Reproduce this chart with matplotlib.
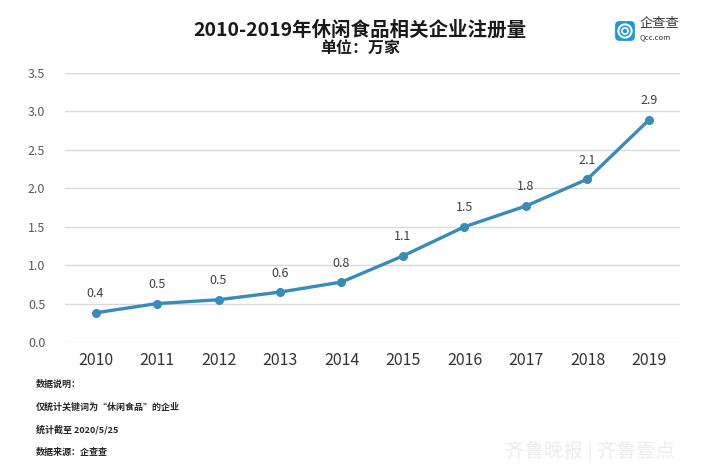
import matplotlib.pyplot as plt
from matplotlib.patches import FancyBboxPatch, Circle

plt.rcParams['font.family'] = ['Noto Sans CJK SC', 'DejaVu Sans']

years = ['2010', '2011', '2012', '2013', '2014', '2015', '2016', '2017', '2018', '2019']
values = [0.38, 0.50, 0.55, 0.65, 0.78, 1.12, 1.50, 1.77, 2.12, 2.89]
labels = ['0.4', '0.5', '0.5', '0.6', '0.8', '1.1', '1.5', '1.8', '2.1', '2.9']
notes = ['数据说明：', '仅统计关键词为“休闲食品”的企业', '统计截至 2020/5/25', '数据来源：企查查']

line_color = '#3a8bb8'

fig = plt.figure(figsize=(7.2, 4.76), dpi=100)
ax = fig.add_axes([0.09, 0.2815, 0.854, 0.565])

x = list(range(len(years)))
ax.plot(x, values, color=line_color, lw=2.4, marker='o', ms=5.5, zorder=3)
for i, (v, lab) in enumerate(zip(values, labels)):
    ax.annotate(lab, (i, v), xytext=(0, 9), textcoords='offset points',
                ha='center', va='bottom', fontsize=9, color='#404040')

ax.set_xlim(-0.5, 9.5)
ax.set_ylim(0, 3.5)
ax.set_yticks([0, 0.5, 1.0, 1.5, 2.0, 2.5, 3.0, 3.5])
ax.set_yticklabels([f'{t:.1f}' for t in ax.get_yticks()])
ax.set_xticks(x)
ax.set_xticklabels(years)
ax.grid(axis='y', color='#d9d9d9', lw=1)
ax.set_axisbelow(True)
for s in ax.spines.values():
    s.set_visible(False)
ax.tick_params(axis='both', length=0)
ax.tick_params(axis='y', labelsize=9, colors='#595959', pad=14)
ax.tick_params(axis='x', labelsize=11.5, colors='#333333', pad=7)

# 标题
fig.text(0.5, 0.936, '2010-2019年休闲食品相关企业注册量', ha='center', va='center',
         fontsize=14, fontweight='bold', color='#1a1a1a')
fig.text(0.5, 0.9, '单位：万家', ha='center', va='center',
         fontsize=11.5, fontweight='bold', color='#1a1a1a')

# 说明
ys = [384, 407, 430, 452]
for t, yy in zip(notes, ys):
    fig.text(36 / 720, 1 - yy / 476, t, ha='left', va='center', fontsize=6.5,
             fontweight='bold', color='#262626')

# logo
logo = fig.add_axes([614 / 720, 1 - 42 / 476, 22 / 720, 22 / 476])
logo.set_xlim(0, 1)
logo.set_ylim(0, 1)
logo.axis('off')
logo.add_patch(FancyBboxPatch((0.05, 0.05), 0.9, 0.9, boxstyle='round,pad=0,rounding_size=0.2',
                              fc='#2196d8', ec='none'))
logo.add_patch(Circle((0.5, 0.5), 0.3, fc='none', ec='white', lw=1.5))
logo.add_patch(Circle((0.5, 0.5), 0.14, fc='none', ec='white', lw=1.2))
fig.text(640 / 720, 1 - 24 / 476, '企查查', ha='left', va='center', fontsize=9.5, color='#333333')
fig.text(640 / 720, 1 - 37 / 476, 'Qcc.com', ha='left', va='center', fontsize=5.5, color='#333333')

# 水印
fig.text(590 / 720, 1 - 452 / 476, '齐鲁晚报 | 齐鲁壹点', ha='center', va='center',
         fontsize=14, color='#ececec')

fig.savefig('out.png', dpi=100)
